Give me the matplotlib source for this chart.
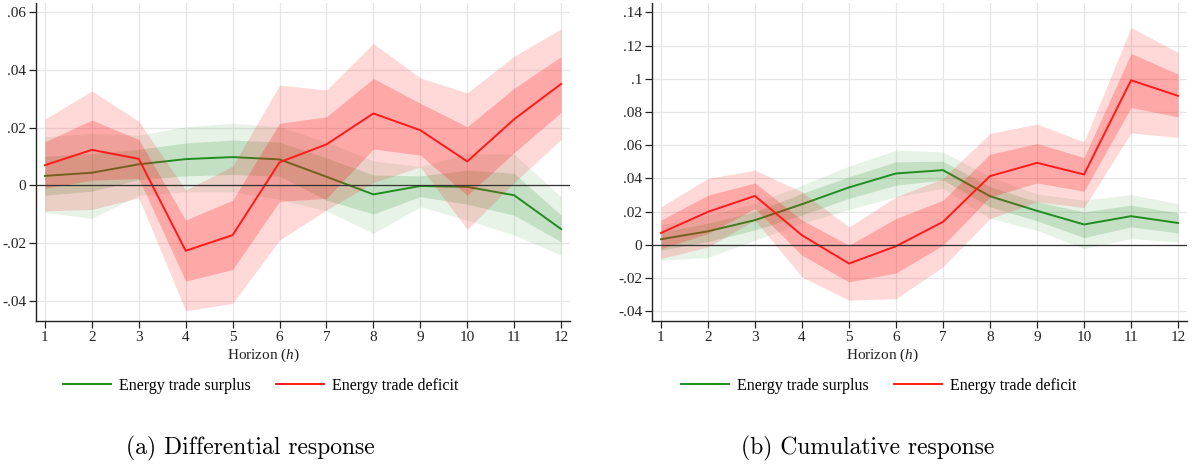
import matplotlib
matplotlib.use("Agg")
import matplotlib.pyplot as plt
from matplotlib.ticker import FixedLocator, FuncFormatter
import numpy as np

horizon = [1, 2, 3, 4, 5, 6, 7, 8, 9, 10, 11, 12]

# Panel (a) differential response
a_surplus = [0.0033, 0.0044, 0.0073, 0.0091, 0.0098, 0.0090, 0.0030, -0.0031, -0.0002, -0.0005, -0.0034, -0.0151]
a_surplus_in_lo = [-0.0034, -0.0020, 0.0020, 0.0033, 0.0038, 0.0032, -0.0051, -0.0099, -0.0039, -0.0065, -0.0103, -0.0195]
a_surplus_in_hi = [0.0101, 0.0110, 0.0125, 0.0147, 0.0157, 0.0150, 0.0095, 0.0036, 0.0033, 0.0053, 0.0042, -0.0103]
a_surplus_out_lo = [-0.0093, -0.0114, -0.0034, -0.0022, -0.0022, -0.0048, -0.0088, -0.0166, -0.0074, -0.0120, -0.0172, -0.0241]
a_surplus_out_hi = [0.0168, 0.0180, 0.0174, 0.0203, 0.0215, 0.0203, 0.0150, 0.0085, 0.0065, 0.0111, 0.0108, -0.0039]

a_deficit = [0.0070, 0.0123, 0.0092, -0.0226, -0.0172, 0.0080, 0.0142, 0.0249, 0.0191, 0.0083, 0.0229, 0.0351]
a_deficit_in_lo = [-0.0010, 0.0018, 0.0024, -0.0331, -0.0291, -0.0055, -0.0045, 0.0126, 0.0105, -0.0034, 0.0113, 0.0253]
a_deficit_in_hi = [0.0151, 0.0226, 0.0159, -0.0120, -0.0051, 0.0215, 0.0237, 0.0370, 0.0284, 0.0203, 0.0336, 0.0445]
a_deficit_out_lo = [-0.0088, -0.0083, -0.0043, -0.0434, -0.0408, -0.0189, -0.0085, 0.0010, 0.0064, -0.0152, 0.0010, 0.0159]
a_deficit_out_hi = [0.0229, 0.0327, 0.0222, -0.0016, 0.0067, 0.0347, 0.0330, 0.0491, 0.0372, 0.0320, 0.0447, 0.0541]

# Panel (b) cumulative response
b_surplus = [0.0034, 0.0082, 0.0149, 0.0245, 0.0346, 0.0430, 0.0450, 0.0293, 0.0205, 0.0123, 0.0173, 0.0132]
b_surplus_in_lo = [-0.0032, 0.0020, 0.0090, 0.0180, 0.0280, 0.0360, 0.0390, 0.0229, 0.0145, 0.0044, 0.0108, 0.0072]
b_surplus_in_hi = [0.0078, 0.0130, 0.0200, 0.0310, 0.0410, 0.0500, 0.0504, 0.0350, 0.0259, 0.0199, 0.0239, 0.0193]
b_surplus_out_lo = [-0.0092, -0.0076, 0.0028, 0.0130, 0.0213, 0.0290, 0.0340, 0.0159, 0.0088, -0.0022, 0.0038, 0.0018]
b_surplus_out_hi = [0.0120, 0.0180, 0.0250, 0.0360, 0.0474, 0.0570, 0.0560, 0.0410, 0.0307, 0.0269, 0.0303, 0.0249]

b_deficit = [0.0072, 0.0199, 0.0295, 0.0058, -0.0112, -0.0008, 0.0139, 0.0414, 0.0494, 0.0424, 0.0991, 0.0897]
b_deficit_in_lo = [-0.0022, 0.0069, 0.0219, -0.0062, -0.0223, -0.0169, -0.0002, 0.0289, 0.0373, 0.0323, 0.0827, 0.0771]
b_deficit_in_hi = [0.0149, 0.0299, 0.0373, 0.0149, -0.0002, 0.0159, 0.0269, 0.0546, 0.0610, 0.0526, 0.1152, 0.1028]
b_deficit_out_lo = [-0.0082, -0.0012, 0.0149, -0.0193, -0.0333, -0.0323, -0.0132, 0.0159, 0.0259, 0.0225, 0.0674, 0.0647]
b_deficit_out_hi = [0.0229, 0.0400, 0.0450, 0.0319, 0.0108, 0.0289, 0.0400, 0.0671, 0.0727, 0.0620, 0.1309, 0.1158]

a_yticks = [-0.04, -0.02, 0, 0.02, 0.04, 0.06]
b_yticks = [-0.04, -0.02, 0, 0.02, 0.04, 0.06, 0.08, 0.10, 0.12, 0.14]
legend_labels = ["Energy trade surplus", "Energy trade deficit"]
captions = ["(a) Differential response", "(b) Cumulative response"]
xlabel_text = "Horizon ($h$)"

plt.rcParams['mathtext.fontset'] = 'custom'
plt.rcParams['mathtext.rm'] = 'Liberation Serif'
plt.rcParams['mathtext.it'] = 'Liberation Serif:italic'
plt.rcParams['font.family'] = ['Liberation Serif']

GREEN = '#228B22'
RED = '#FF1A1A'

W, H = 1192, 466
fig = plt.figure(figsize=(W / 100, H / 100), dpi=100)


def fmt(v, pos):
    if abs(v) < 1e-12:
        return "0"
    s = ("%.2f" % v).rstrip('0').rstrip('.')
    s = s.replace("0.", ".")
    return s


def panel(rect, ylim, yticks, s, s_il, s_ih, s_ol, s_oh, d, d_il, d_ih, d_ol, d_oh):
    ax = fig.add_axes(rect)
    x = np.array(horizon)
    ax.fill_between(x, s_ol, s_oh, color=GREEN, alpha=0.10, lw=0, zorder=2)
    ax.fill_between(x, s_il, s_ih, color=GREEN, alpha=0.18, lw=0, zorder=2)
    l1, = ax.plot(x, s, color=GREEN, lw=1.4, zorder=3)
    ax.fill_between(x, d_ol, d_oh, color=RED, alpha=0.17, lw=0, zorder=4)
    ax.fill_between(x, d_il, d_ih, color=RED, alpha=0.25, lw=0, zorder=4)
    l2, = ax.plot(x, d, color=RED, lw=1.4, zorder=5)
    ax.axhline(0, color='#333333', lw=0.9, zorder=6)
    ax.set_xlim(0.81, 12.19)
    ax.set_ylim(*ylim)
    ax.xaxis.set_major_locator(FixedLocator(horizon))
    ax.yaxis.set_major_locator(FixedLocator(yticks))
    ax.yaxis.set_major_formatter(FuncFormatter(fmt))
    ax.grid(True, color='#E6E6E6', lw=0.9, zorder=0)
    ax.set_axisbelow(True)
    for sp in ['top', 'right']:
        ax.spines[sp].set_visible(False)
    for sp in ['left', 'bottom']:
        ax.spines[sp].set_linewidth(1.0)
        ax.spines[sp].set_color('#222222')
    ax.tick_params(direction='out', length=5, width=0.9, labelsize=11, pad=2, colors='#222222')
    return ax, l1, l2


ax1, l1, l2 = panel([36 / W, 1 - 321 / H, 534 / W, 318 / H], (-0.0469, 0.0631), a_yticks,
                    a_surplus, a_surplus_in_lo, a_surplus_in_hi, a_surplus_out_lo, a_surplus_out_hi,
                    a_deficit, a_deficit_in_lo, a_deficit_in_hi, a_deficit_out_lo, a_deficit_out_hi)
ax2, _, _ = panel([652 / W, 1 - 321 / H, 535 / W, 318 / H], (-0.0458, 0.1456), b_yticks,
                  b_surplus, b_surplus_in_lo, b_surplus_in_hi, b_surplus_out_lo, b_surplus_out_hi,
                  b_deficit, b_deficit_in_lo, b_deficit_in_hi, b_deficit_out_lo, b_deficit_out_hi)

for cx, cap_x, cap in [(263, 250, captions[0]), (882, 868, captions[1])]:
    fig.text(cx / W, 1 - 355 / H, xlabel_text, ha='center', va='center', fontsize=11, color='#222222')
    fig.text(cap_x / W, 1 - 448 / H, cap, ha='center', va='center', fontsize=17, family='cmr10')

for cx in [261, 879]:
    fig.legend([l1, l2], legend_labels, loc='center', bbox_to_anchor=(cx / W, 1 - 386 / H),
               ncol=2, frameon=False, fontsize=11.5, handlelength=3.0, handletextpad=0.5,
               columnspacing=1.6)

fig.savefig('out.png', dpi=100)
